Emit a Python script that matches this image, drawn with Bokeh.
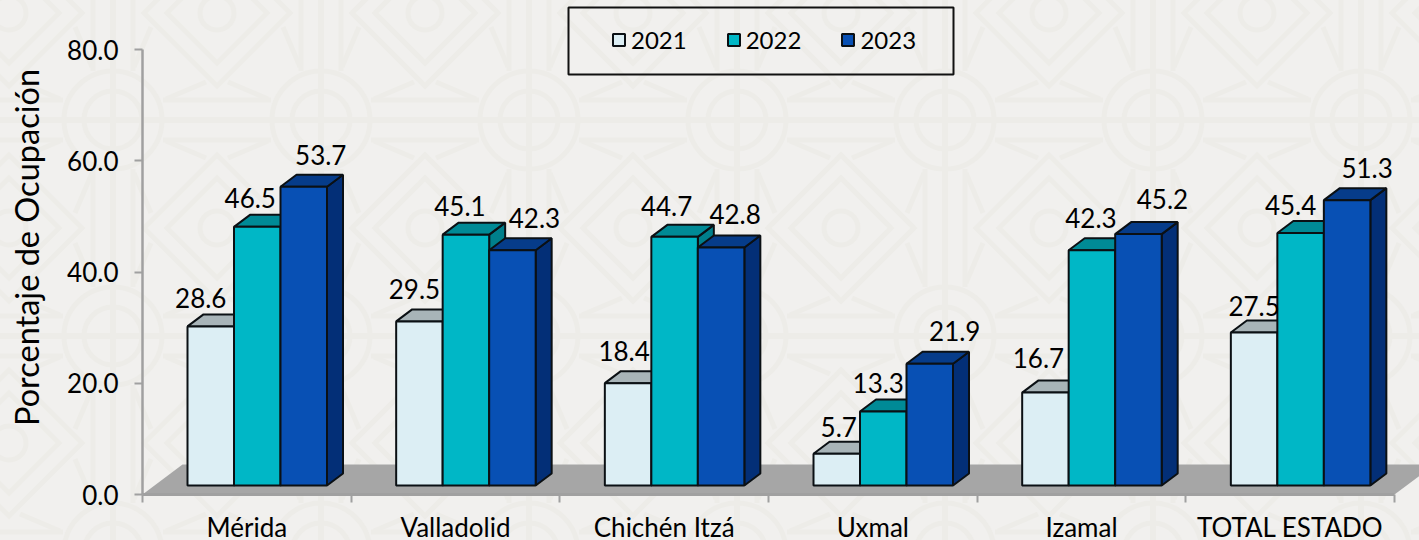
from urllib.parse import quote
from bokeh.core.properties import value
from bokeh.embed import file_html
from bokeh.models import ColumnDataSource, FixedTicker, Legend, LegendItem, LinearAxis, NumeralTickFormatter, Range1d
from bokeh.plotting import figure
from bokeh.resources import INLINE

categories = ["Mérida", "Valladolid", "Chichén Itzá", "Uxmal", "Izamal", "TOTAL ESTADO"]
series_names = ["2021", "2022", "2023"]
v2021 = [28.6, 29.5, 18.4, 5.7, 16.7, 27.5]
v2022 = [46.5, 45.1, 44.7, 13.3, 42.3, 45.4]
v2023 = [53.7, 42.3, 42.8, 21.9, 45.2, 51.3]
y_ticks = [0, 20, 40, 60, 80]
y_title = "Porcentaje de Ocupación"

# label offsets in px from the top-centre of each bar's front face
lab_dx = [[-10, -5, -4, 2, -7, 0], [-7, -6, -8, -5, -1, -10], [17, 22, 14, 25, 24, 20]]
lab_dy = [[-28, -32, -32, -27, -35, -27], [-29, -29, -31, -29, -32, -28], [-32, -32, -33, -33, -35, -32]]

FONT = "Lato"
FRONT = ["#dceef4", "#00b7c6", "#0850b4"]
TOP = ["#a8b4b8", "#008a96", "#063c8a"]
SIDE = ["#9fb0b6", "#007f8b", "#032f77"]
EDGE = "#0b1014"
AXIS = "#a0a0a0"
BG = "#f1f0ee"
PAT = "#edece8"

CAT_PX = 208.67
VAL_PX = 5.5625
W, H = 1419, 540
FRAME_L, FRAME_B = 142, 494


def cx(px):
    return px / CAT_PX


def vy(px):
    return px / VAL_PX


# ---- background pattern (decorative, page-level)
def pattern():
    e = []
    def line(x1, y1, x2, y2, w=5):
        e.append(f'<line x1="{x1}" y1="{y1}" x2="{x2}" y2="{y2}" stroke-width="{w}"/>')
    def ring(x, y, r, w=5):
        e.append(f'<circle cx="{x}" cy="{y}" r="{r}" stroke-width="{w}" fill="none"/>')
    def diamond(x, y, r, w=5):
        e.append(f'<path d="M{x-r} {y}L{x} {y-r}L{x+r} {y}L{x} {y+r}Z" stroke-width="{w}" fill="none"/>')
    for k in range(-1, 8):
        for j in range(-1, 4):
            c, d = 113 + 208 * k, 120 + 216 * j
            ring(c, d, 49)
            ring(c, d, 29)
            line(c - 49, d, c + 49, d, 6)
            line(c, d - 216, c, d + 216, 6)
            line(c + 50, d - 20, c + 158, d - 20)
            line(c + 50, d + 20, c + 158, d + 20)
            line(c + 50, d, c + 158, d, 6)
            line(c - 20, d - 49, c - 20, d - 167)
            line(c + 20, d - 49, c + 20, d - 167)
            for sx in (-1, 1):
                for sy in (-1, 1):
                    line(c + sx * 21, d + sy * 53, c + sx * 38, d + sy * 93)
                    line(c + sx * 53, d + sy * 21, c + sx * 93, d + sy * 38)
            a, b = 9 + 208 * k, 13 + 215 * j
            ring(a, b, 17)
            diamond(a, b, 50)
            diamond(a, b, 73)
    return ('<svg xmlns="http://www.w3.org/2000/svg" width="1419" height="540">'
            f'<g stroke="{PAT}">' + "".join(e) + "</g></svg>")


p = figure(width=W, height=H, output_backend="svg", toolbar_location=None,
           x_range=Range1d(0, (W - FRAME_L) / CAT_PX), y_range=Range1d(0, FRAME_B / VAL_PX),
           min_border_left=FRAME_L, min_border_right=0, min_border_top=0, min_border_bottom=H - FRAME_B,
           frame_width=W - FRAME_L, frame_height=FRAME_B,
           background_fill_color=None, border_fill_color=None, outline_line_color=None,
           x_axis_type=None, y_axis_type=None)
p.grid.visible = False
p.extra_x_ranges["px"] = Range1d(FRAME_L, W)
p.extra_y_ranges["px"] = Range1d(FRAME_B, 0)

# Axes
yaxis = LinearAxis(ticker=FixedTicker(ticks=y_ticks), bounds=(0, 80), axis_label=y_title)
yaxis.formatter = NumeralTickFormatter(format="0.0")
yaxis.axis_line_color = AXIS
yaxis.axis_line_width = 2.5
yaxis.major_tick_line_color = AXIS
yaxis.major_tick_line_width = 2
yaxis.major_tick_in = 0
yaxis.major_tick_out = 8
yaxis.minor_tick_line_color = None
yaxis.major_label_standoff = 16
yaxis.major_label_text_font = FONT
yaxis.major_label_text_font_size = "26px"
yaxis.major_label_text_color = "#000000"
yaxis.axis_label_text_font = FONT
yaxis.axis_label_text_font_size = "32.5px"
yaxis.axis_label_text_font_style = "normal"
yaxis.axis_label_text_color = "#000000"
yaxis.axis_label_standoff = 18
p.add_layout(yaxis, "left")

centers = [i + 0.5 for i in range(len(categories))]
edges = list(range(len(categories) + 1))
xaxis = LinearAxis(ticker=FixedTicker(ticks=centers, minor_ticks=edges), bounds=(0, 6))
xaxis.major_label_overrides = {c: n for c, n in zip(centers, categories)}
xaxis.axis_line_color = AXIS
xaxis.axis_line_width = 3
xaxis.major_tick_line_color = None
xaxis.major_tick_in = 0
xaxis.major_tick_out = 0
xaxis.minor_tick_line_color = AXIS
xaxis.minor_tick_line_width = 2
xaxis.minor_tick_in = 0
xaxis.minor_tick_out = 8
xaxis.major_label_standoff = 8
xaxis.major_label_text_font = FONT
xaxis.major_label_text_font_size = "26px"
xaxis.major_label_text_color = "#000000"
p.add_layout(xaxis, "below")

# Floor
fd_x, fd_y = cx(40), vy(30)
p.patch([0, 6, 6 + fd_x, fd_x], [0, 0, fd_y, fd_y], fill_color="#a6a6a6", line_color=None)

# Bars
BAR_W = cx(46.5)
DX, DY = cx(16), vy(12)
BASE_Y = vy(9)
START = cx(45)
series = [v2021, v2022, v2023]
fronts = {}
for s, vals in enumerate(series):
    lefts = [i + START + s * BAR_W for i in range(len(vals))]
    rights = [l + BAR_W for l in lefts]
    tops = [BASE_Y + v for v in vals]
    p.patches([[r, r + DX, r + DX, r] for r, t in zip(rights, tops)],
              [[BASE_Y, BASE_Y + DY, t + DY, t] for t in tops],
              fill_color=SIDE[s], line_color=EDGE, line_width=2)
    p.patches([[l, r, r + DX, l + DX] for l, r in zip(lefts, rights)],
              [[t, t, t + DY, t + DY] for t in tops],
              fill_color=TOP[s], line_color=EDGE, line_width=2)
    fronts[s] = p.quad(left=lefts, right=rights, bottom=[BASE_Y] * len(vals), top=tops,
                       fill_color=FRONT[s], line_color=EDGE, line_width=2)

for s, vals in enumerate(series):
    src = ColumnDataSource(dict(
        x=[i + START + (s + 0.5) * BAR_W for i in range(len(vals))],
        y=[BASE_Y + v for v in vals],
        t=[f"{v:.1f}" for v in vals],
        dx=lab_dx[s], dy=lab_dy[s]))
    p.text("x", "y", text="t", source=src, x_offset="dx", y_offset="dy",
           text_align="center", text_baseline="middle", text_color="#000000",
           text_font=value(FONT), text_font_size="26px")

# Legend box
p.quad(left=[568], right=[953], top=[7], bottom=[74], fill_color=None, line_color="#111111", line_width=2,
       x_range_name="px", y_range_name="px")
legend = Legend(items=[LegendItem(label=n, renderers=[fronts[i]]) for i, n in enumerate(series_names)],
                orientation="horizontal", location=(612 - 143, 494 - 54),
                glyph_width=15, glyph_height=15, label_standoff=5, spacing=39, padding=0, margin=0,
                border_line_color=None, background_fill_color=None,
                label_text_font=FONT, label_text_font_size="24px", label_text_color="#000000")
p.add_layout(legend, "center")

html = file_html(p, INLINE)
css = (f"<style>html,body{{background-color:{BG};background-image:url(\"data:image/svg+xml,"
       + quote(pattern()) + "\");background-repeat:no-repeat;}</style>")
html = html.replace("</head>", css + "</head>", 1)
open("out.html", "w").write(html)
